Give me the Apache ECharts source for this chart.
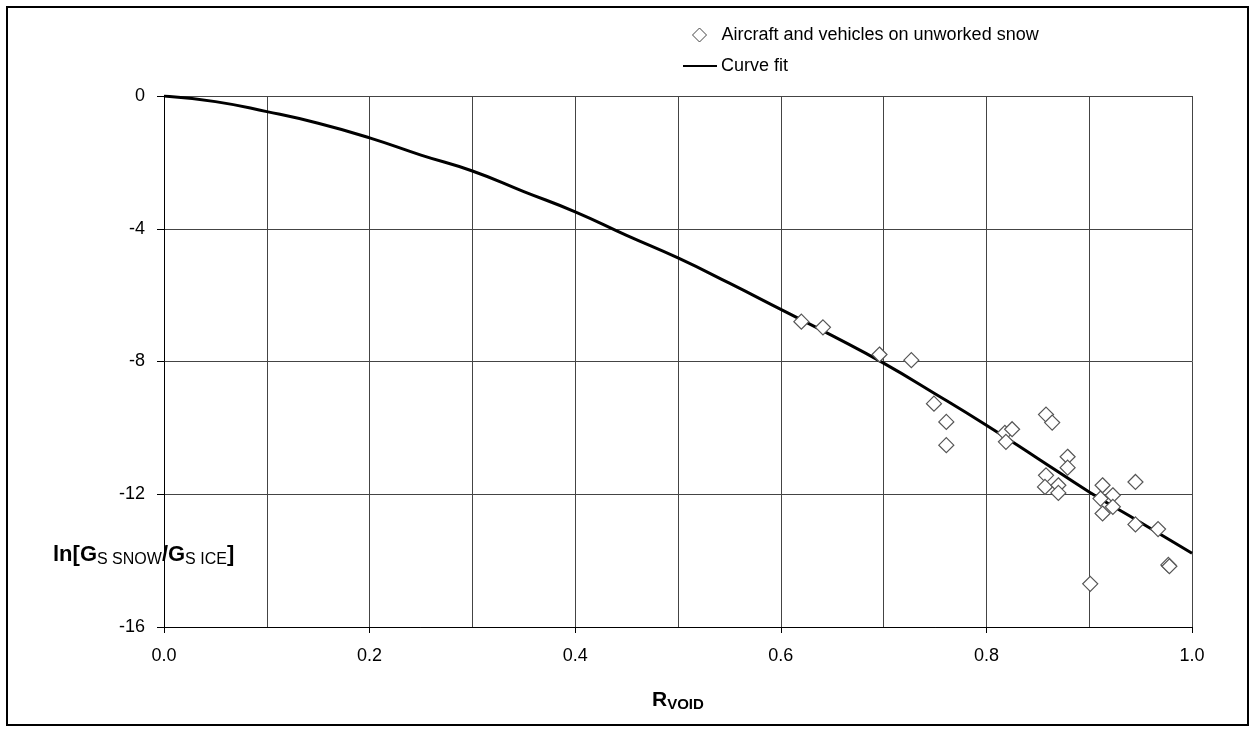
<!DOCTYPE html>
<html>
<head>
<meta charset="utf-8">
<script src="https://cdn.jsdelivr.net/npm/echarts@6/dist/echarts.min.js"></script>
<style>
html,body{margin:0;padding:0;background:#fff;}
#chart{width:1255px;height:732px;}
</style>
</head>
<body>
<div id="chart"></div>
<script>
// Data
const scatterName = 'Aircraft and vehicles on unworked snow';
const fitName = 'Curve fit';
const measuredRvoid = [0.620,0.641,0.696,0.727,0.749,0.761,0.761,0.818,0.819,0.825,0.858,0.864,0.879,0.879,0.858,0.857,0.870,0.870,0.913,0.911,0.923,0.923,0.913,0.945,0.945,0.967,0.977,0.978,0.901];
const measuredLnG = [-6.80,-6.97,-7.79,-7.96,-9.27,-9.82,-10.52,-10.15,-10.42,-10.04,-9.60,-9.84,-10.87,-11.20,-11.43,-11.78,-11.73,-11.96,-11.73,-12.13,-12.03,-12.38,-12.58,-11.63,-12.91,-13.05,-14.13,-14.17,-14.70];
const fitRvoid = [0,0.05,0.1,0.15,0.2,0.25,0.3,0.35,0.4,0.45,0.5,0.55,0.6,0.65,0.7,0.75,0.8,0.85,0.9,0.95,1.0];
const fitLnG = [0,-0.17,-0.47,-0.82,-1.26,-1.78,-2.26,-2.88,-3.49,-4.20,-4.88,-5.64,-6.43,-7.22,-8.05,-8.97,-9.92,-10.92,-11.93,-12.85,-13.78];
const xTickLabels = ['0.0','0.2','0.4','0.6','0.8','1.0'];
const yTickLabels = ['0','-4','-8','-12','-16'];

const FONT = "'Liberation Sans', Arial, sans-serif";
const chart = echarts.init(document.getElementById('chart'), null, {renderer: 'canvas'});

const scatterData = measuredRvoid.map((x, i) => [x, measuredLnG[i]]);
const fitData = fitRvoid.map((x, i) => [x, fitLnG[i]]);

chart.setOption({
  animation: false,
  backgroundColor: '#fff',
  textStyle: {fontFamily: FONT},
  grid: {left: 164, right: 63, top: 96, bottom: 105, containLabel: false},
  legend: [
    {
      orient: 'vertical',
      left: 687,
      top: 21,
      itemWidth: 14,
      itemHeight: 14,
      textStyle: {fontFamily: FONT, fontSize: 18, color: '#000', padding: [0,0,0,10]},
      data: [
        {name: scatterName, icon: 'diamond', itemStyle: {color: '#fff', borderColor: '#444', borderWidth: 1}}
      ]
    },
    {
      orient: 'vertical',
      left: 678,
      top: 52,
      itemWidth: 34,
      itemHeight: 2,
      textStyle: {fontFamily: FONT, fontSize: 18, color: '#000', padding: [0,0,0,-1]},
      data: [
        {name: fitName, icon: 'rect', itemStyle: {color: '#000', borderWidth: 0}}
      ]
    }
  ],
  xAxis: {
    type: 'value',
    min: 0, max: 1, interval: 0.2,
    axisLine: {show: true, onZero: false, lineStyle: {color: '#000', width: 1}},
    axisTick: {show: true, length: 6, lineStyle: {color: '#000'}},
    axisLabel: {
      fontSize: 18, color: '#000', fontFamily: FONT, margin: 20,
      formatter: (v) => xTickLabels[Math.round(v / 0.2)]
    },
    splitLine: {show: true, lineStyle: {color: '#444', width: 1}},
    minorTick: {show: false, splitNumber: 2},
    minorSplitLine: {show: true, lineStyle: {color: '#444', width: 1}}
  },
  yAxis: {
    type: 'value',
    min: -16, max: 0, interval: 4,
    axisLine: {show: true, onZero: false, lineStyle: {color: '#000', width: 1}},
    axisTick: {show: true, length: 7, lineStyle: {color: '#000'}},
    axisLabel: {
      fontSize: 18, color: '#000', fontFamily: FONT, margin: 19,
      formatter: (v) => yTickLabels[Math.round(-v / 4)]
    },
    splitLine: {show: true, lineStyle: {color: '#444', width: 1}}
  },
  series: [
    {
      name: fitName,
      type: 'line',
      data: fitData,
      symbol: 'none',
      smooth: true,
      itemStyle: {color: '#000'},
      lineStyle: {color: '#000', width: 3},
      z: 2
    },
    {
      name: scatterName,
      type: 'scatter',
      data: scatterData,
      symbol: 'diamond',
      symbolSize: 15,
      itemStyle: {color: '#fff', borderColor: '#555', borderWidth: 1.2, opacity: 1},
      z: 3
    }
  ],
  graphic: [
    {
      type: 'rect',
      shape: {x: 7, y: 7, width: 1241, height: 718},
      style: {fill: 'none', stroke: '#000', lineWidth: 2},
      silent: true
    },
    {
      type: 'text',
      left: 53,
      top: 544,
      style: {
        text: '{b|ln[G}{s|S SNOW}{b|/G}{s|S ICE}{b|]}',
        rich: {
          b: {fontFamily: FONT, fontSize: 22, fontWeight: 'bold', fill: '#000'},
          s: {fontFamily: FONT, fontSize: 16, fill: '#000', padding: [9,0,0,0]}
        }
      }
    },
    {
      type: 'text',
      left: 652,
      top: 690,
      style: {
        text: '{b|R}{s|VOID}',
        rich: {
          b: {fontFamily: FONT, fontSize: 21, fontWeight: 'bold', fill: '#000'},
          s: {fontFamily: FONT, fontSize: 15, fontWeight: 'bold', fill: '#000', padding: [9,0,0,0]}
        }
      }
    }
  ]
});
</script>
</body>
</html>
